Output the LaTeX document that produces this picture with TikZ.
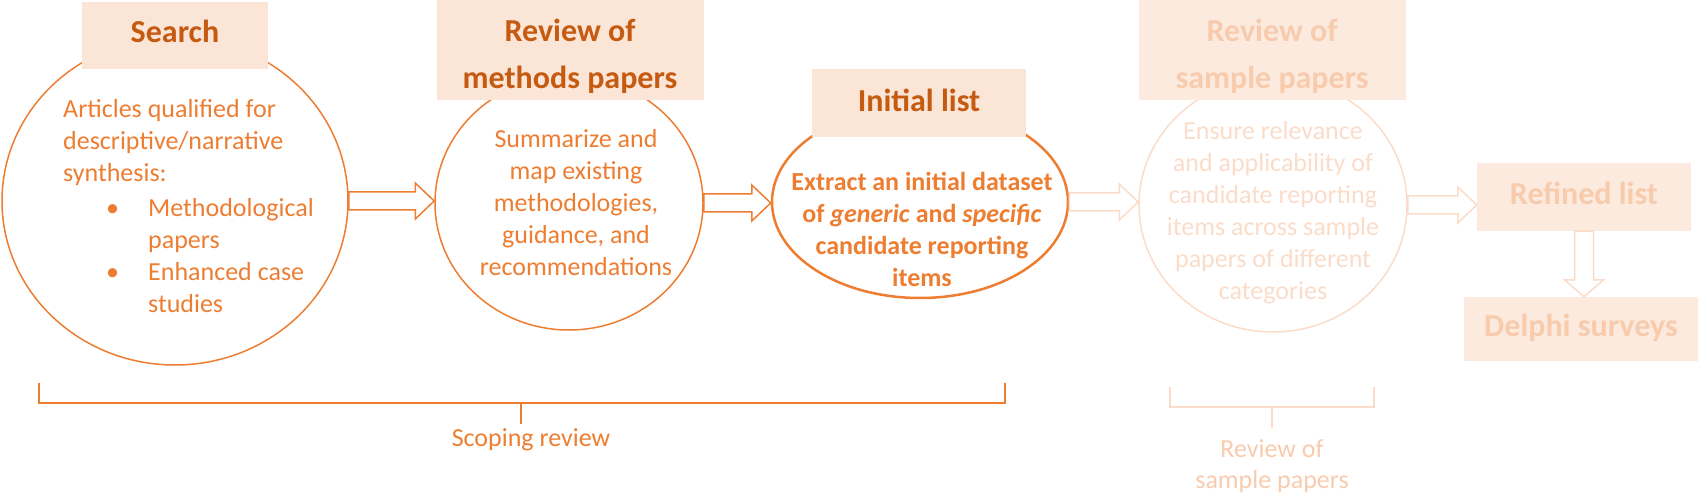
\documentclass[tikz,border=0pt]{standalone}
\usepackage{fontspec}
\setmainfont{Carlito}
\usetikzlibrary{shapes.geometric,calc}

\definecolor{orng}{HTML}{ED7D31}
\definecolor{darkorng}{HTML}{C55A11}
\definecolor{peach}{HTML}{FBE5D6}
\definecolor{palepeach}{HTML}{FCEADF}
\definecolor{fadeorng}{HTML}{F8CBAD}
\definecolor{fadeline}{HTML}{FADCC9}

\tikzset{
  stage/.style={ellipse, draw=orng, line width=1.5bp, inner sep=0pt},
  titlebox/.style={fill=peach, inner sep=0pt},
  fadebox/.style={fill=palepeach, inner sep=0pt},
  titletext/.style={text=darkorng, inner sep=0pt, align=center,
    font=\bfseries\fontsize{32bp}{47bp}\selectfont},
  fadetitle/.style={titletext, text=fadeorng},
  bodytext/.style={text=orng, inner sep=0pt, align=center,
    font=\fontsize{26bp}{32bp}\selectfont},
  arrowbody/.style={draw=orng, fill=white, line width=1.5bp, line join=miter},
  bracket/.style={draw=orng, line width=1.5bp}
}

% hollow block arrow between two nodes
\newcommand{\hollowarrow}[3][]{%
  \draw[arrowbody,#1] let \p1=(#2.east), \p2=(#3.west) in
    (\x1,\y1+9bp) -- (\x2-19bp,\y1+9bp) -- (\x2-19bp,\y1+18bp) -- (\x2,\y1)
    -- (\x2-19bp,\y1-18bp) -- (\x2-19bp,\y1-9bp) -- (\x1,\y1-9bp) -- cycle;}

\begin{document}
\begin{tikzpicture}[x=1bp, y=-1bp]
  \useasboundingbox (0,0) rectangle (1701,493);

  % the four stages
  \node[stage, minimum width=346bp, minimum height=328bp] (search) at (175,201) {};
  \node[stage, minimum width=268bp, minimum height=254bp] (methods) at (569,203) {};
  \node[stage, line width=2.5bp, minimum width=296bp, minimum height=192bp] (initial) at (920,202) {};
  \node[stage, draw=fadeline, minimum width=268bp, minimum height=254bp] (sample) at (1273,205) {};

  % headings
  \node[titlebox, minimum width=186bp, minimum height=67bp] (search-box) at (175,35.5) {};
  \node[titlebox, minimum width=267bp, minimum height=101bp] (methods-box) at (570,50) {};
  \node[titlebox, minimum width=214bp, minimum height=68bp] (initial-box) at (919,103) {};
  \node[fadebox, minimum width=267bp, minimum height=101bp] (sample-box) at (1272,50) {};
  \node[fadebox, minimum width=214bp, minimum height=68bp] (refined) at (1584,197) {};
  \node[fadebox, minimum width=234bp, minimum height=64bp] (delphi) at (1581,329) {};

  \node[titletext] (search-title) at (175,31.5) {Search};
  \node[titletext] (methods-title) at (570,56.5) {Review of\\methods papers};
  \node[titletext] (initial-title) at (919,100) {Initial list};
  \node[fadetitle] (sample-title) at (1272,56) {Review of\\sample papers};
  \node[fadetitle] (refined-title) at (1584,193.5) {Refined list};
  \node[fadetitle] (delphi-title) at (1581,328) {Delphi surveys};

  % texts in the stages
  \node[bodytext, align=left, anchor=west] (search-txt) at (63,206) {Articles qualified for\\descriptive/narrative\\synthesis:\\[3bp]
    \hspace*{43bp}\makebox[42bp][l]{•}Methodological\\
    \hspace*{85bp}papers\\
    \hspace*{43bp}\makebox[42bp][l]{•}Enhanced case\\
    \hspace*{85bp}studies};
  \node[bodytext] (methods-txt) at (576,203) {Summarize and\\map existing\\methodologies,\\guidance, and\\recommendations};
  \node[bodytext, font=\bfseries\fontsize{26bp}{32bp}\selectfont] (initial-txt) at (922,229)
    {Extract an initial dataset\\of \textit{generic} and \textit{specific}\\candidate reporting\\items};
  \node[bodytext, text=fadeline] (sample-txt) at (1273,213) {Ensure relevance\\and applicability of\\candidate reporting\\items across sample\\papers of different\\categories};

  % arrows
  \hollowarrow{search}{methods}
  \hollowarrow{methods}{initial}
  \hollowarrow[draw=fadeline]{initial}{sample}
  \hollowarrow[draw=fadeline]{sample}{refined}
  \draw[arrowbody, draw=fadeline] let \p1=(refined.south), \p2=(delphi.north) in
    (\x1-9.5bp,\y1) -- (\x1-9.5bp,\y2+17bp) -- (\x1-19.5bp,\y2+17bp) -- (\x1,\y2)
    -- (\x1+19.5bp,\y2+17bp) -- (\x1+9.5bp,\y2+17bp) -- (\x1+9.5bp,\y1) -- cycle;

  % brackets
  \coordinate (scope-l) at (39,383);
  \coordinate (scope-r) at (1005,383);
  \coordinate (scope-m) at (521,403);
  \node[bodytext] (scoping) at (531,440) {Scoping review};
  \draw[bracket] (scope-l) -- ++(0,20) -| (scope-r);
  \draw[bracket] (scope-m) -- ++(0,21);

  \coordinate (sample-l) at (1170,387);
  \coordinate (sample-r) at (1374,387);
  \coordinate (sample-m) at (1272,407);
  \node[bodytext, text=fadeorng, font=\fontsize{26bp}{31bp}\selectfont] (sample-lbl) at (1272,466) {Review of\\sample papers};
  \draw[bracket, draw=fadeline] (sample-l) -- ++(0,20) -| (sample-r);
  \draw[bracket, draw=fadeline] (sample-m) -- ++(0,21);
\end{tikzpicture}
\end{document}
